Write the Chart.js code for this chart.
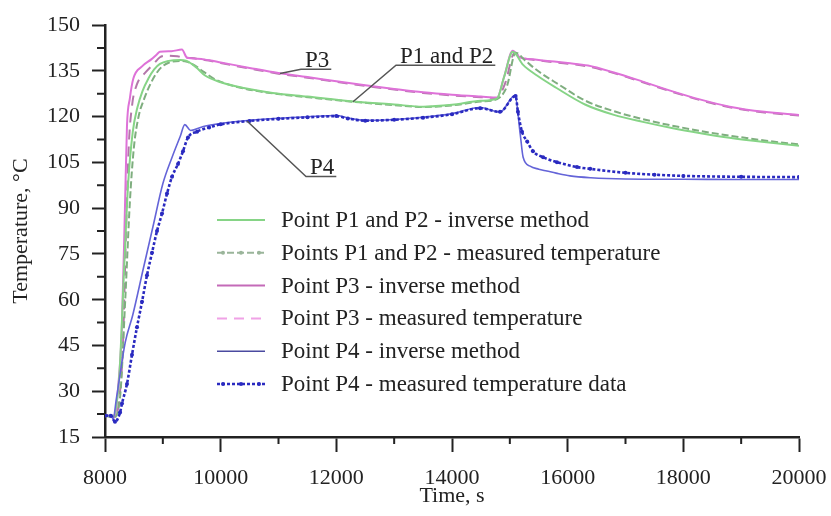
<!DOCTYPE html>
<html>
<head>
<meta charset="utf-8">
<title>Temperature, °C</title>
<script src="https://cdn.jsdelivr.net/npm/chart.js@4.4.1/dist/chart.umd.min.js"></script>
<style>
    html, body { margin: 0; padding: 0; background: #ffffff; }
</style>
</head>
<body>
<canvas id="grafico" width="831" height="516"></canvas>
<script>
// ---- data (time in s, temperature in °C) ----
let timeP12Inverse = [8000, 8150, 8250, 8330, 8400, 8480, 8560, 8650, 8750, 8850, 8950, 9100, 9300, 9400, 9500, 9600, 9730, 10000, 10400, 10900, 11500, 12300, 13000, 13500, 14000, 14500, 14780, 14900, 15050, 15230, 15470, 15800, 16300, 16800, 17300, 17800, 18300, 18800, 19400, 20000];
let tempP12Inverse = [22, 22, 36, 70, 98, 115, 123, 128.5, 132.5, 135.5, 137.3, 138.3, 138.6, 138.4, 137.3, 135.8, 133.5, 131.3, 129.4, 127.8, 126.6, 125, 124, 123.3, 123.9, 125.2, 126, 133, 141.3, 137, 133.5, 129.5, 124, 120.6, 118.3, 116.3, 114.6, 113.1, 111.7, 110.5];

let timeP12Measured = [8000, 8150, 8260, 8350, 8430, 8500, 8580, 8680, 8780, 8880, 8980, 9100, 9300, 9420, 9550, 9700, 9900, 10200, 10600, 11100, 11700, 12400, 13000, 13500, 14000, 14500, 14780, 14950, 15100, 15260, 15500, 15850, 16300, 16800, 17300, 17800, 18300, 18800, 19400, 20000];
let tempP12Measured = [22, 21.5, 28, 60, 92, 110, 120, 126, 130.5, 134, 136.3, 137.7, 138.3, 138, 136.8, 134.8, 132.3, 130.2, 128.5, 127.2, 126, 124.7, 123.8, 123.2, 123.7, 125, 125.8, 130, 141, 138.5, 134.8, 130.5, 125.3, 121.8, 119.2, 117.1, 115.3, 113.8, 112.2, 110.9];

let timeP3Inverse = [8000, 8170, 8230, 8290, 8345, 8380, 8430, 8490, 8640, 8800, 8900, 8950, 9150, 9330, 9420, 9600, 9800, 10000, 10500, 11000, 11500, 12000, 12500, 13000, 13500, 14000, 14500, 14780, 14900, 15050, 15180, 15400, 15650, 16000, 16350, 16800, 17300, 17800, 18300, 18800, 19400, 20000];
let tempP3Inverse = [22, 22, 32, 50, 90, 117, 126, 132.5, 136.5, 138.8, 140.5, 141.3, 141.5, 142, 139.3, 139, 138.5, 137.8, 136, 134.3, 133, 131.6, 130.3, 129.1, 128, 127.2, 126.6, 126.3, 133, 141.6, 139.4, 138.8, 138.3, 137.6, 136.8, 134.5, 131.5, 128.4, 125.6, 123.3, 121.6, 120.6];

let timeP3Measured = [8000, 8180, 8250, 8310, 8360, 8410, 8470, 8550, 8700, 8850, 8950, 9050, 9250, 9400, 9600, 9800, 10000, 10500, 11000, 11500, 12000, 12500, 13000, 13500, 14000, 14500, 14780, 14920, 15080, 15200, 15400, 15650, 16000, 16350, 16800, 17300, 17800, 18300, 18800, 19400, 20000];
let tempP3Measured = [22, 21.5, 28, 45, 80, 110, 124, 130.5, 134.5, 137.5, 139.5, 140, 139.8, 139.4, 139, 138.4, 137.6, 135.8, 134.1, 132.8, 131.4, 130.1, 128.9, 127.8, 127, 126.4, 126.1, 131, 140.8, 139.3, 138.7, 138.1, 137.4, 136.5, 134.3, 131.3, 128.2, 125.4, 123.1, 121.4, 120.4];

let timeP4Inverse = [8000, 8100, 8140, 8200, 8350, 8480, 8660, 8830, 9000, 9160, 9300, 9380, 9480, 9700, 10000, 10500, 11000, 11500, 12000, 12200, 12500, 13000, 13500, 14000, 14485, 14830, 15090, 15180, 15230, 15350, 15500, 15640, 15800, 16040, 16400, 17000, 18000, 19000, 20000];
let tempP4Inverse = [22, 22, 21, 28, 46, 55, 70, 84, 98, 106.7, 113.5, 117.4, 115.5, 116.8, 117.8, 118.8, 119.5, 120, 120.4, 119.6, 118.8, 119.1, 119.8, 121, 123, 121.5, 127, 114.2, 106.7, 103.8, 102.8, 102.2, 101.5, 100.6, 100, 99.6, 99.5, 99.4, 99.4];

let timeP4Measured = [8000, 8100, 8173, 8260, 8294, 8380, 8467, 8553, 8640, 8726, 8813, 8899, 8986, 9072, 9159, 9262, 9349, 9435, 9591, 9800, 10000, 10500, 11000, 11500, 12000, 12200, 12500, 13000, 13500, 14000, 14485, 14830, 15100, 15140, 15210, 15300, 15400, 15575, 15815, 16160, 16390, 17000, 17500, 18000, 19000, 20000];
let tempP4Measured = [22, 22, 20, 23, 26, 32.4, 42, 51, 59.3, 68, 75.4, 82.5, 88.3, 94.8, 100.3, 104.5, 108.7, 113.2, 115.1, 116.5, 117.5, 118.6, 119.3, 119.8, 120.2, 119.4, 118.7, 119, 119.7, 120.8, 122.8, 121.6, 126.8, 121.6, 115.1, 111.9, 108.7, 106.7, 105.1, 103.5, 102.9, 101.6, 101, 100.6, 100.3, 100.2];

let seriesLabels = [
    "Point P1 and P2 - inverse method",
    "Points P1 and P2 - measured temperature",
    "Point P3 - inverse method",
    "Point P3 - measured temperature",
    "Point P4 - inverse method",
    "Point P4 - measured temperature data"
];

let xTickValues = [8000, 10000, 12000, 14000, 16000, 18000, 20000];
let yTickValues = [15, 30, 45, 60, 75, 90, 105, 120, 135, 150];

let notes = [
    { text: "P3", x: 11458, y: 136.4, toX: 11026, toY: 134.2 },
    { text: "P1 and P2", x: 13101, y: 137.7, toX: 12288, toY: 124.9 },
    { text: "P4", x: 11545, y: 101.2, toX: 10455, toY: 118.6 }
];

let fonteSerif = '"Liberation Serif", "Times New Roman", serif';
let corTexto = "#222222";

function montarPontos(tempos, valores) {
    let pontos = [];
    for (let i = 0; i < tempos.length; i++) {
        pontos.push({ x: tempos[i], y: valores[i] });
    }
    return pontos;
}

// minor ticks halfway between the labelled ones
let minorTicks = {
    id: "minorTicks",
    afterDraw: function (chart) {
        let ctx = chart.ctx;
        let sx = chart.scales.x;
        let sy = chart.scales.y;
        ctx.save();
        ctx.strokeStyle = "#222";
        ctx.lineWidth = 2;
        ctx.beginPath();
        for (let i = 0; i < xTickValues.length - 1; i++) {
            let px = sx.getPixelForValue((xTickValues[i] + xTickValues[i + 1]) / 2);
            ctx.moveTo(px, sy.bottom);
            ctx.lineTo(px, sy.bottom + 7);
        }
        for (let i = 0; i < yTickValues.length - 1; i++) {
            let py = sy.getPixelForValue((yTickValues[i] + yTickValues[i + 1]) / 2);
            ctx.moveTo(sx.left, py);
            ctx.lineTo(sx.left - 8, py);
        }
        ctx.stroke();
        ctx.restore();
    }
};

// legend inside the plot, lower middle
let legendaInterna = {
    id: "legendaInterna",
    afterDraw: function (chart) {
        let ctx = chart.ctx;
        let conjuntos = chart.data.datasets;
        let x0 = 217;
        let y0 = 220;
        let passo = 32.8;
        ctx.save();
        ctx.font = "23px " + fonteSerif;
        ctx.textBaseline = "middle";
        ctx.fillStyle = corTexto;
        for (let i = 0; i < conjuntos.length; i++) {
            let ds = conjuntos[i];
            let y = y0 + i * passo;
            ctx.save();
            ctx.strokeStyle = ds.legendColor || ds.borderColor;
            ctx.lineWidth = ds.borderWidth;
            ctx.setLineDash(ds.borderDash || []);
            ctx.beginPath();
            ctx.moveTo(x0, y);
            ctx.lineTo(x0 + 48, y);
            ctx.stroke();
            if (ds.legendDots) {
                ctx.setLineDash([]);
                ctx.fillStyle = ds.legendColor || ds.borderColor;
                for (let k = 0; k < 3; k++) {
                    ctx.beginPath();
                    ctx.arc(x0 + 6 + k * 18, y, 2, 0, Math.PI * 2);
                    ctx.fill();
                }
            }
            ctx.restore();
            ctx.fillText(ds.label, x0 + 64, y + 1);
        }
        ctx.restore();
    }
};

// underlined curve names with leader lines
let rotulos = {
    id: "rotulos",
    afterDraw: function (chart) {
        let ctx = chart.ctx;
        let sx = chart.scales.x;
        let sy = chart.scales.y;
        ctx.save();
        ctx.font = "23px " + fonteSerif;
        ctx.textBaseline = "alphabetic";
        ctx.fillStyle = corTexto;
        ctx.strokeStyle = "#555";
        ctx.lineWidth = 1.5;
        for (let i = 0; i < notes.length; i++) {
            let n = notes[i];
            let px = sx.getPixelForValue(n.x);
            let py = sy.getPixelForValue(n.y);
            let largura = ctx.measureText(n.text).width;
            ctx.fillText(n.text, px, py);
            ctx.beginPath();
            ctx.moveTo(sx.getPixelForValue(n.toX), sy.getPixelForValue(n.toY));
            ctx.lineTo(px - 4, py + 2.5);
            ctx.lineTo(px + largura + 2, py + 2.5);
            ctx.stroke();
        }
        ctx.restore();
    }
};

function eixoX(scale) {
    scale.ticks = xTickValues.map(function (v) { return { value: v }; });
}

function eixoY(scale) {
    scale.ticks = yTickValues.map(function (v) { return { value: v }; });
}

function textoSimples(valor) {
    return String(valor);
}

let grafico = new Chart(document.getElementById("grafico"), {
    type: "line",
    data: {
        datasets: [
            {
                label: seriesLabels[0],
                data: montarPontos(timeP12Inverse, tempP12Inverse),
                borderColor: "#86d486",
                borderWidth: 2,
                pointRadius: 0,
                order: 3
            },
            {
                label: seriesLabels[1],
                data: montarPontos(timeP12Measured, tempP12Measured),
                borderColor: "#7fae7f",
                legendColor: "#9ab59a",
                borderWidth: 2,
                borderDash: [7, 3],
                legendDots: true,
                pointRadius: 0,
                order: 4
            },
            {
                label: seriesLabels[2],
                data: montarPontos(timeP3Inverse, tempP3Inverse),
                borderColor: "#de72d8",
                legendColor: "#c46ab8",
                borderWidth: 2,
                pointRadius: 0,
                order: 5
            },
            {
                label: seriesLabels[3],
                data: montarPontos(timeP3Measured, tempP3Measured),
                borderColor: "#b477aa",
                legendColor: "#f0a2e6",
                borderWidth: 2,
                borderDash: [10, 7],
                pointRadius: 0,
                order: 6
            },
            {
                label: seriesLabels[4],
                data: montarPontos(timeP4Inverse, tempP4Inverse),
                borderColor: "#6464d8",
                legendColor: "#4a4aa0",
                borderWidth: 1.6,
                pointRadius: 0,
                order: 2
            },
            {
                label: seriesLabels[5],
                data: montarPontos(timeP4Measured, tempP4Measured),
                borderColor: "#2a2ac0",
                borderWidth: 2.6,
                borderDash: [3, 2],
                legendDots: true,
                pointRadius: 2,
                pointBackgroundColor: "#2a2ac0",
                pointBorderWidth: 0,
                order: 1
            }
        ]
    },
    options: {
        responsive: false,
        animation: false,
        cubicInterpolationMode: "monotone",
        layout: {
            padding: { left: 0, top: 19, right: 32, bottom: 0 }
        },
        plugins: {
            legend: { display: false },
            tooltip: { enabled: false }
        },
        scales: {
            x: {
                type: "linear",
                min: 8000,
                max: 20000,
                afterBuildTicks: eixoX,
                afterFit: function (scale) {
                    scale.height = 79;
                    scale.paddingLeft = 0;
                    scale.paddingRight = 0;
                },
                border: { display: true, color: "#222", width: 2.5 },
                grid: { drawOnChartArea: false, drawTicks: true, tickLength: 15, tickColor: "#222", tickWidth: 2 },
                ticks: {
                    color: corTexto,
                    padding: 13,
                    maxRotation: 0,
                    callback: textoSimples,
                    font: { family: fonteSerif, size: 22 }
                },
                title: {
                    display: true,
                    text: "Time, s",
                    color: corTexto,
                    padding: { top: 0, bottom: 7 },
                    font: { family: fonteSerif, size: 22 }
                }
            },
            y: {
                min: 15,
                max: 150,
                afterBuildTicks: eixoY,
                afterFit: function (scale) { scale.width = 105; },
                border: { display: true, color: "#222", width: 2.5 },
                grid: { drawOnChartArea: false, drawTicks: true, tickLength: 13, tickColor: "#222", tickWidth: 2 },
                ticks: {
                    color: corTexto,
                    padding: 12,
                    callback: textoSimples,
                    font: { family: fonteSerif, size: 22 }
                },
                title: {
                    display: true,
                    text: "Temperature, °C",
                    color: corTexto,
                    padding: { top: 8, bottom: 0 },
                    font: { family: fonteSerif, size: 22 }
                }
            }
        }
    },
    plugins: [minorTicks, legendaInterna, rotulos]
});
</script>
</body>
</html>
